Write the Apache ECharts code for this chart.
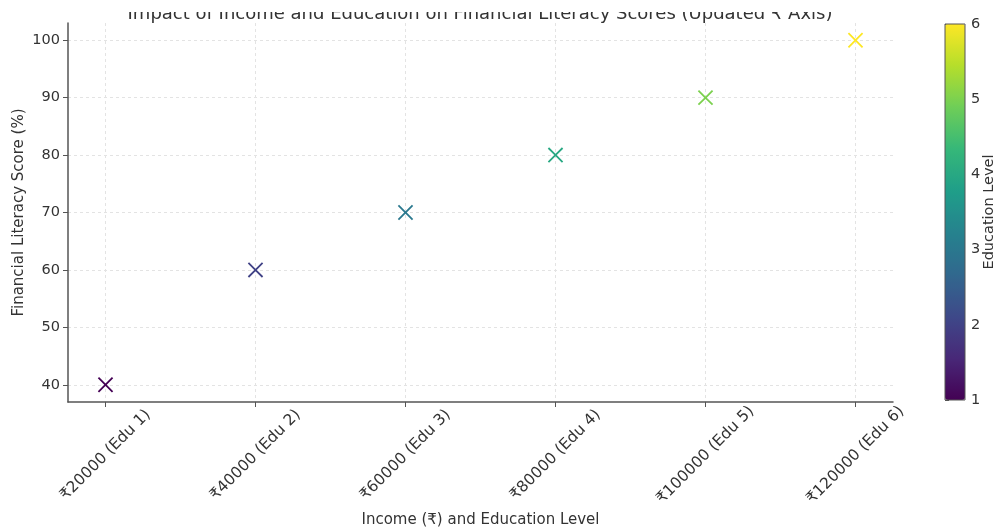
<!DOCTYPE html>
<html>
<head>
<meta charset="utf-8">
<script src="https://cdn.jsdelivr.net/npm/echarts@6/dist/echarts.min.js"></script>
<style>html,body{margin:0;padding:0;background:#fff}#wrap{position:relative;width:995px;height:529px}#c{width:995px;height:529px}#cut{position:absolute;left:0;top:0;width:995px;height:12px;background:#fff;z-index:10}</style>
</head>
<body>
<div id="wrap"><div id="c"></div><div id="cut"></div></div>
<script>
const incomes = [20000, 40000, 60000, 80000, 100000, 120000];
const eduLevels = [1, 2, 3, 4, 5, 6];
const scores = [40, 60, 70, 80, 90, 100];
const yTicks = [40, 50, 60, 70, 80, 90, 100];
const colorTicks = [1, 2, 3, 4, 5, 6];
const titleText = 'Impact of Income and Education on Financial Literacy Scores (Updated \u20B9 Axis)';

const xLabels = incomes.map((v, i) => '\u20B9' + v + ' (Edu ' + eduLevels[i] + ')');
const xPositions = incomes.map((v, i) => i);
const points = incomes.map((v, i) => [i, scores[i], eduLevels[i]]);

const font = "'DejaVu Sans', 'Noto Sans', sans-serif";
const txt = '#333333';
const axisCol = '#555555';
const viridis = ['#440154', '#482878', '#3e4989', '#31688e', '#26828e', '#1f9e89', '#35b779', '#6ece58', '#b5de2b', '#fde725'];
const xMark = 'path://M45.5,0L54.5,0L54.5,45.5L100,45.5L100,54.5L54.5,54.5L54.5,100L45.5,100L45.5,54.5L0,54.5L0,45.5L45.5,45.5Z';

const chart = echarts.init(document.getElementById('c'));
chart.setOption({
  backgroundColor: '#ffffff',
  animation: false,
  textStyle: { fontFamily: font },
  title: {
    text: titleText,
    left: 475, top: 0, textAlign: 'center', z: 1,
    textStyle: { fontSize: 18, fontWeight: 'normal', color: txt, fontFamily: font }
  },
  grid: [
    { left: 68, right: 102, top: 23, bottom: 127, outerBoundsMode: 'none', containLabel: false },
    { left: 945, width: 20, top: 24, height: 376, show: true, z: 10, borderColor: '#555555', borderWidth: 1, backgroundColor: 'transparent', outerBoundsMode: 'none', containLabel: false }
  ],
  xAxis: [{
    type: 'value', gridIndex: 0, min: -0.25, max: 5.25,
    name: 'Income (\u20B9) and Education Level', nameLocation: 'middle', nameGap: 111, nameMoveOverlap: false,
    nameTextStyle: { fontSize: 15, color: txt },
    axisLine: { onZero: false, lineStyle: { color: axisCol, width: 1.5 } },
    axisTick: { show: true, customValues: xPositions, length: 5, lineStyle: { color: axisCol } },
    axisLabel: {
      customValues: xPositions, rotate: 45, align: 'center', verticalAlign: 'middle', margin: 53,
      fontSize: 15.5, color: txt, formatter: v => xLabels[Math.round(v)]
    },
    splitLine: { show: true, lineStyle: { color: '#e3e3e3', type: [3, 3], width: 1 } }
  }, {
    type: 'value', gridIndex: 1, min: 0, max: 1, show: false
  }],
  yAxis: [{
    type: 'value', gridIndex: 0, min: 37, max: 103,
    name: 'Financial Literacy Score (%)', nameLocation: 'middle', nameGap: 41, nameRotate: 90, nameMoveOverlap: false,
    nameTextStyle: { fontSize: 15, color: txt },
    axisLine: { show: true, onZero: false, lineStyle: { color: axisCol, width: 1.5 } },
    axisTick: { show: true, customValues: yTicks, length: 5, lineStyle: { color: axisCol } },
    axisLabel: { customValues: yTicks, fontSize: 14.5, color: txt, margin: 8 },
    splitLine: { show: true, lineStyle: { color: '#e3e3e3', type: [3, 3], width: 1 } }
  }, {
    type: 'value', gridIndex: 1, min: 1, max: 6, interval: 1, position: 'right',
    name: 'Education Level', nameLocation: 'middle', nameGap: 17, nameRotate: 90, nameMoveOverlap: false,
    nameTextStyle: { fontSize: 14.5, color: txt },
    axisLine: { show: false },
    axisTick: { show: true, inside: false, length: 4, lineStyle: { color: axisCol } },
    axisLabel: { fontSize: 14.5, color: txt, margin: 6 },
    splitLine: { show: false }
  }],
  visualMap: {
    type: 'continuous', min: 1, max: 6, dimension: 2, seriesIndex: 0,
    orient: 'vertical', left: 945, top: 24, itemWidth: 20, itemHeight: 376,
    padding: 0, calculable: false, text: null, showLabel: false,
    inRange: { color: viridis }
  },
  series: [{
    type: 'scatter', xAxisIndex: 0, yAxisIndex: 0,
    data: points,
    symbol: xMark, symbolSize: 20, symbolRotate: 45,
    itemStyle: { opacity: 1 }
  }]
});
</script>
</body>
</html>
